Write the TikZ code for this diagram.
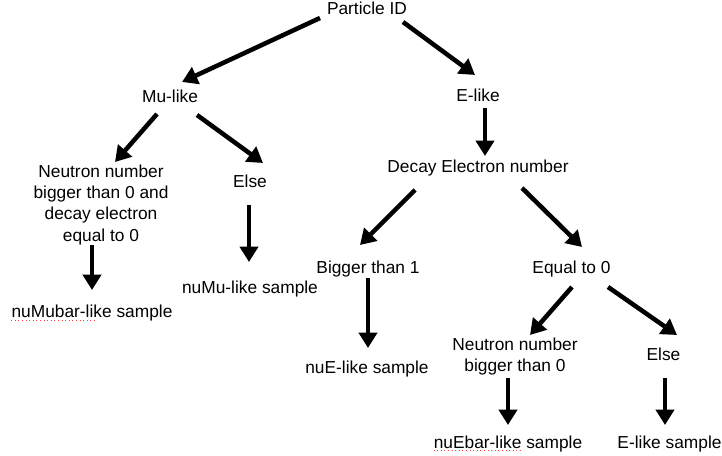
\documentclass[tikz,border=0pt]{standalone}
\usepackage{fontspec}
\setmainfont{Liberation Sans}
\usetikzlibrary{arrows.meta, positioning, calc}

\begin{document}
\begin{tikzpicture}[
			x=0.75pt, y=-0.75pt,
			item/.style={inner sep=0pt, align=center, font=\fontsize{13pt}{16pt}\selectfont},
			arrow/.style={-{Triangle[width=13.5pt, length=11.5pt]}, line width=3.4pt},
			spell/.style={draw=red!75, dotted, line width=0.7pt}
			]
			\useasboundingbox (0,0) rectangle (722,456);
			
			\node[item] (pid) at (367,8.8) {Particle ID};
			\node[item] (mu) at (170,96.8) {Mu-like};
			\node[item] (el) at (478,95.8) {E-like};
			\node[item] (decay) at (478,167.6) {Decay Electron number};
			\node[item] (neutronA) at (101,204.6) {Neutron number\\bigger than 0 and\\decay electron\\equal to 0};
			\node[item] (elseA) at (250,181.8) {Else};
			\node[item] (numubar) at (92,312.6) {nuMubar-like sample};
			\node[item] (numu) at (250,288.6) {nuMu-like sample};
			\node[item] (bigger) at (368,268.6) {Bigger than 1};
			\node[item] (equal) at (571.5,268.6) {Equal to 0};
			\node[item] (nue) at (367,368.6) {nuE-like sample};
			\node[item] (neutronB) at (515,356.25) {Neutron number\\bigger than 0};
			\node[item] (elseB) at (663.5,354.8) {Else};
			\node[item] (nuebar) at (508,443.6) {nuEbar-like sample};
			\node[item] (esample) at (669.5,443.6) {E-like sample};
			
			\draw[arrow] ([shift={(-47,9.2)}]pid.center) -- ([shift={(12,-14.8)}]mu.center);
			\draw[arrow] ([shift={(36,13.2)}]pid.center) -- ([shift={(-3,-20.8)}]el.center);
			\draw[arrow] ([shift={(7,12.2)}]el.center) -- ([shift={(7,-11.6)}]decay.center);
			\draw[arrow] ([shift={(-13,17.2)}]mu.center) -- ([shift={(14,-42.6)}]neutronA.center);
			\draw[arrow] ([shift={(27,18.2)}]mu.center) -- ([shift={(13,-18.8)}]elseA.center);
			\draw[arrow] ([shift={(-9,40.4)}]neutronA.center) -- ([shift={(0,-22.6)}]numubar.center);
			\draw[arrow] ([shift={(-1,23.2)}]elseA.center) -- ([shift={(-1,-26.6)}]numu.center);
			\draw[arrow] ([shift={(-63,22.4)}]decay.center) -- ([shift={(-8,-23.6)}]bigger.center);
			\draw[arrow] ([shift={(44,20.4)}]decay.center) -- ([shift={(10.5,-21.6)}]equal.center);
			\draw[arrow] ([shift={(0,9.4)}]bigger.center) -- ([shift={(1,-20.6)}]nue.center);
			\draw[arrow] ([shift={(0.5,18.4)}]equal.center) -- ([shift={(15,-21.25)}]neutronB.center);
			\draw[arrow] ([shift={(36.5,18.4)}]equal.center) -- ([shift={(13.5,-19.8)}]elseB.center);
			\draw[arrow] ([shift={(-7,21.75)}]neutronB.center) -- ([shift={(0,-18.6)}]nuebar.center);
			\draw[arrow] ([shift={(1.5,23.2)}]elseB.center) -- ([shift={(-4.5,-18.6)}]esample.center);
			
			\draw[spell] ([shift={(0,3)}]numubar.base west) -- ([shift={(84,3)}]numubar.base west);
			\draw[spell] ([shift={(0,2.5)}]nuebar.base west) -- ([shift={(88,2.5)}]nuebar.base west);
		\end{tikzpicture}
\end{document}
